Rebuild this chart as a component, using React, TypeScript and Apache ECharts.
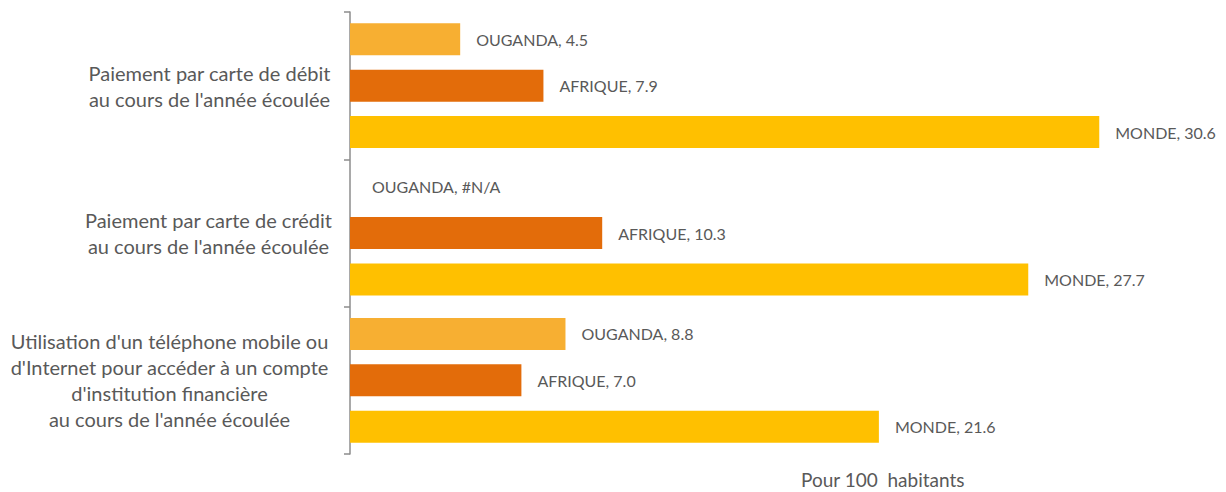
import React, { useEffect, useRef } from "react";
import * as echarts from "echarts";

const categories = [
  "Paiement par carte de débit\nau cours de l'année écoulée",
  "Paiement par carte de crédit\nau cours de l'année écoulée",
  "Utilisation d'un téléphone mobile ou\nd'Internet pour accéder à un compte\nd'institution financière\nau cours de l'année écoulée",
];
const seriesNames = ["OUGANDA", "AFRIQUE", "MONDE"];
const ougandaValues: (number | null)[] = [4.5, null, 8.8];
const afriqueValues: (number | null)[] = [7.9, 10.3, 7.0];
const mondeValues: (number | null)[] = [30.6, 27.7, 21.6];
const colors = ["#F7AF32", "#E36C0A", "#FFC000"];
const axisTitle = "Pour 100  habitants";

const FONT = "Lato, 'Open Sans', sans-serif";
const TEXT = "#595959";

export default function App() {
  const ref = useRef<HTMLDivElement>(null);
  useEffect(() => {
    if (!ref.current) return;
    const chart = echarts.init(ref.current, undefined, { renderer: "svg" });
    const all = [ougandaValues, afriqueValues, mondeValues];
    const blockCenters = [207.5, 206.5, 167.5];
    const rightEdge = 334;
    const rich: any = {};
    blockCenters.forEach((c, i) => {
      rich["c" + i] = {
        width: 2 * (rightEdge - c),
        align: "center",
        fontSize: 20,
        lineHeight: 26,
        color: TEXT,
        fontFamily: FONT,
      };
    });
    chart.setOption({
      animation: false,
      textStyle: { fontFamily: FONT },
      title: {
        text: axisTitle,
        left: 801,
        top: 469,
        padding: 0,
        textStyle: { fontSize: 19, lineHeight: 20, fontWeight: "normal", color: TEXT, fontFamily: FONT },
      },
      grid: { left: 348, top: 12, height: 442, width: 859, containLabel: false },
      xAxis: {
        type: "value",
        min: 0,
        max: 35,
        show: false,
      },
      yAxis: {
        type: "category",
        inverse: true,
        data: categories,
        axisLine: { show: true, lineStyle: { color: "#8C8C8C", width: 1.5 } },
        axisTick: { show: true, length: 6, lineStyle: { color: "#8C8C8C", width: 1.5 } },
        axisLabel: {
          margin: 348 - rightEdge,
          align: "right",
          formatter: (v: string, idx: number) =>
            v.split("\n").map((l) => `{c${idx}|${l}}`).join("\n"),
          rich,
        },
      },
      series: all.map((vals, si) => ({
        type: "bar",
        name: seriesNames[si],
        barWidth: 32,
        barGap: "45%",
        barCategoryGap: "15%",
        itemStyle: { color: colors[si] },
        data: vals.map((v) =>
          v === null
            ? { value: 0, label: { distance: 22 } }
            : { value: v }
        ),
        label: {
          show: true,
          position: "right",
          distance: 16,
          fontSize: 16,
          color: TEXT,
          fontFamily: FONT,
          formatter: (p: any) => {
            const raw = all[si][p.dataIndex];
            return `${seriesNames[si]}, ${raw === null ? "#N/A" : raw.toFixed(1)}`;
          },
        },
      })),
    });
    return () => chart.dispose();
  }, []);
  return (
    <div
      ref={ref}
      style={{ position: "fixed", left: 0, top: 0, width: 1226, height: 492, background: "#fff" }}
    />
  );
}
